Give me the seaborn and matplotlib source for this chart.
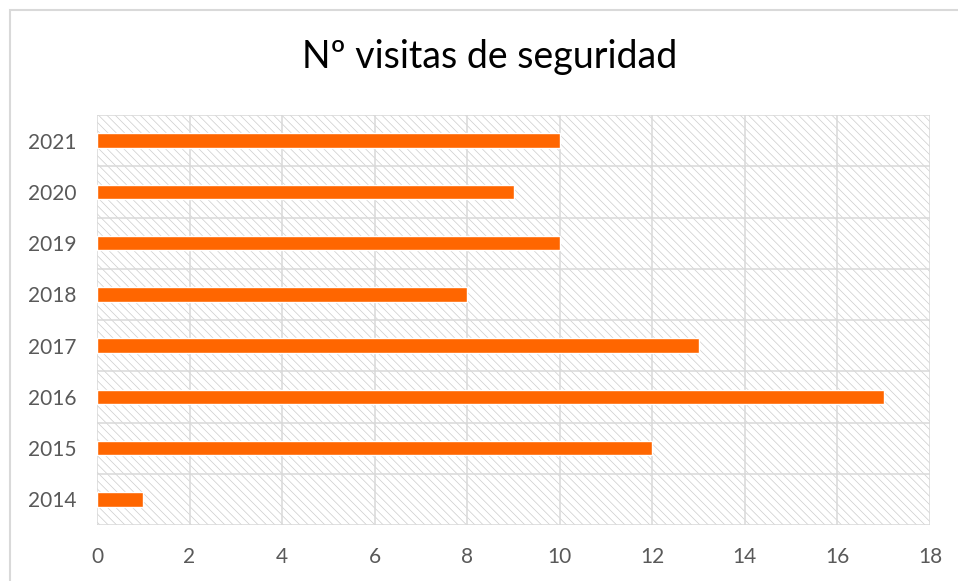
import pandas as pd
import seaborn as sns
import matplotlib.pyplot as plt
from matplotlib.patches import Rectangle

# Data
years = ['2014', '2015', '2016', '2017', '2018', '2019', '2020', '2021']
visits = [1, 12, 17, 13, 8, 10, 9, 10]

df = pd.DataFrame({'year': years, 'visitas': visits})
order = years[::-1]  # 2021 on top

sns.set_style('white')
plt.rcParams['font.family'] = ['Lato', 'DejaVu Sans']
plt.rcParams['hatch.linewidth'] = 0.5
plt.rcParams['hatch.color'] = '#cccccc'

grey = '#d9d9d9'
text_grey = '#595959'

fig = plt.figure(figsize=(9.58, 5.81), dpi=100)
ax = fig.add_axes([97 / 958, 1 - 525 / 581, (930 - 97) / 958, (525 - 115) / 581])

# hatched plot background
ax.add_patch(Rectangle((0, 0), 1, 1, transform=ax.transAxes, facecolor='white',
                       hatch='\\\\\\\\', edgecolor='#cccccc', linewidth=0, zorder=0))

sns.barplot(data=df, x='visitas', y='year', order=order, orient='h',
            color='#FF6600', width=0.28, saturation=1, ax=ax, zorder=3)

ax.set_xlim(0, 18)
ax.set_xticks(range(0, 19, 2))
ax.set_ylim(len(years) - 0.5, -0.5)
ax.set_yticks([i - 0.5 for i in range(len(years) + 1)], minor=True)
ax.grid(axis='x', which='major', color=grey, linewidth=1.1, zorder=1)
ax.grid(axis='y', which='minor', color=grey, linewidth=1.1, zorder=1)
ax.set_axisbelow(True)
for s in ax.spines.values():
    s.set_visible(False)

ax.tick_params(axis='y', which='minor', length=5, color=grey, width=1.1)
ax.tick_params(axis='y', which='major', length=0, pad=15, labelsize=15, labelcolor=text_grey)
ax.tick_params(axis='x', which='major', length=0, pad=16, labelsize=15, labelcolor=text_grey)
ax.set_xlabel('')
ax.set_ylabel('')

fig.text(490 / 958, 1 - 57 / 581, 'Nº visitas de seguridad', ha='center', va='center',
         fontsize=27, color='#000000')

# chart border (partly cropped in the original)
fig.patches.append(Rectangle((10 / 958, -0.2), 2, 1.2 - 10 / 581, transform=fig.transFigure,
                             fill=False, edgecolor=grey, linewidth=1.5))

fig.savefig('out.png', dpi=100)
